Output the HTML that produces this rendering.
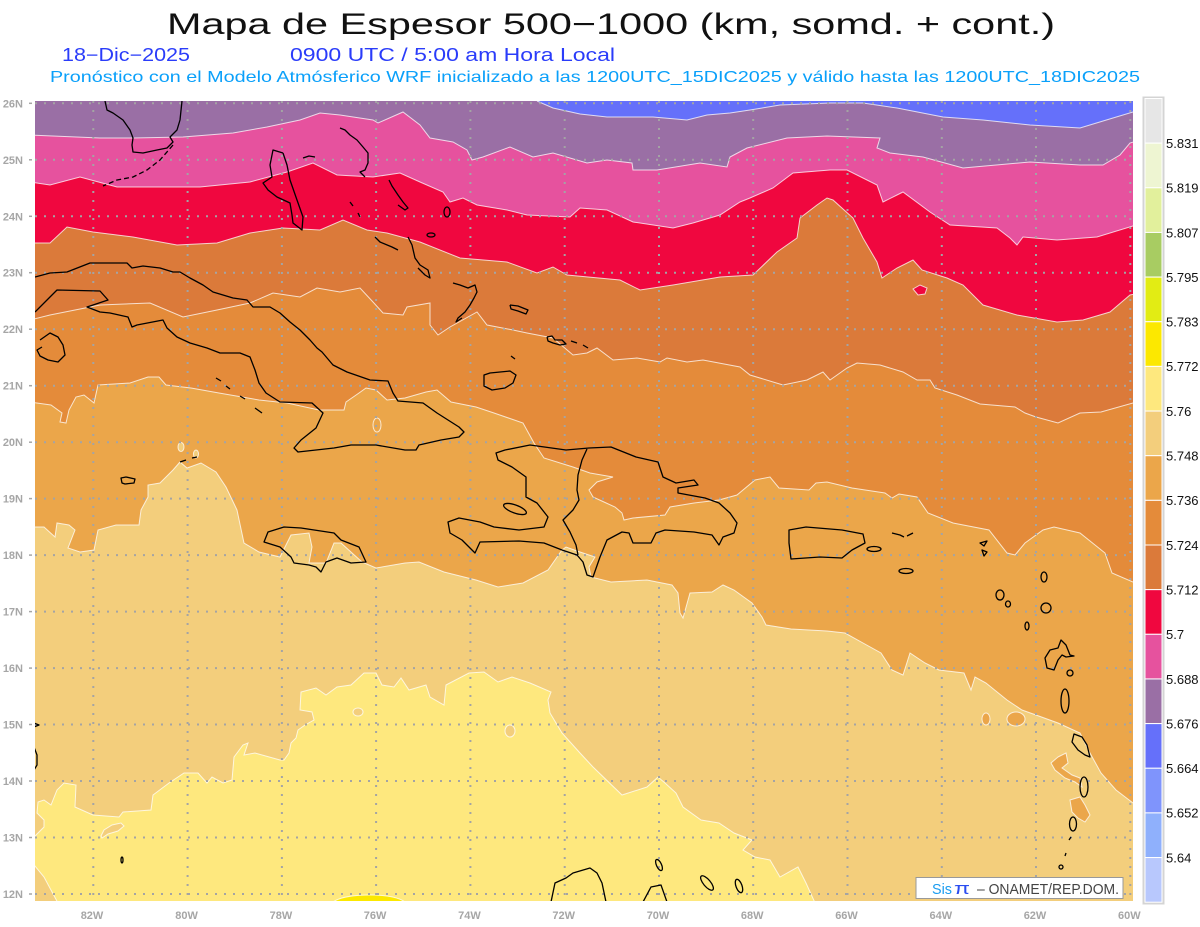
<!DOCTYPE html>
<html><head><meta charset="utf-8"><style>
html,body{margin:0;padding:0;background:#fff;width:1200px;height:927px;overflow:hidden}
svg{display:block}
text{font-family:"Liberation Sans",sans-serif}
</style></head><body>
<svg width="1200" height="927" viewBox="0 0 1200 927" xmlns="http://www.w3.org/2000/svg">
<defs><clipPath id="m"><rect x="35" y="101" width="1098" height="800"/></clipPath></defs>
<rect width="1200" height="927" fill="#fff"/>
<text x="167" y="34" font-size="30" textLength="888" lengthAdjust="spacingAndGlyphs" fill="#111">Mapa de Espesor 500−1000 (km, somd. + cont.)</text>
<text x="62" y="61" font-size="18" textLength="128" lengthAdjust="spacingAndGlyphs" fill="#2a3cfa">18−Dic−2025</text>
<text x="290" y="61" font-size="18" textLength="325" lengthAdjust="spacingAndGlyphs" fill="#2a3cfa">0900 UTC / 5:00 am Hora Local</text>
<text x="50" y="82" font-size="16" textLength="1090" lengthAdjust="spacingAndGlyphs" fill="#0aa0fa">Pronóstico con el Modelo Atmósferico WRF inicializado a las 1200UTC_15DIC2025 y válido hasta las  1200UTC_18DIC2025</text>

<g clip-path="url(#m)">
<rect x="35" y="101" width="1098" height="800" fill="#6570fa"/>
<polygon fill="#9a6fa5" points="30,101 537,101 553,108 580,114 607,117 653,117 687,120 707,115 730,113 750,110 780,105 830,103 863,103 897,108 943,117 983,120 1030,125 1080,128 1113,118 1133,112 1140,111 1140,910 30,910"/>
<polygon fill="#e6529e" points="30,135 100,138 133,138 183,137 233,133 267,127 300,120 320,113 340,115 373,120 378,123 403,112 420,125 430,138 453,142 467,150 472,160 483,157 510,147 533,157 553,153 587,163 607,160 632,163 633,170 657,170 700,163 727,167 730,157 747,148 787,138 827,136 880,138 877,148 890,153 923,157 963,168 1030,162 1080,165 1103,165 1120,155 1130,143 1140,140 1140,910 30,910"/>
<polygon fill="#f0073f" points="30,182 50,185 80,177 117,187 200,187 250,182 287,172 313,163 337,175 373,177 400,173 420,182 443,192 450,202 463,198 477,205 507,210 527,215 570,217 580,208 607,210 633,222 673,228 693,223 720,215 740,202 750,198 773,188 793,173 830,170 847,170 877,185 883,202 897,195 903,192 930,212 950,225 997,228 1010,238 1017,245 1023,237 1057,240 1097,237 1133,226 1140,225 1140,910 30,910"/>
<polygon fill="#db7a3a" points="30,243 50,243 67,227 93,232 133,237 177,245 217,243 250,233 283,228 320,230 343,220 367,230 387,233 420,242 460,258 507,262 537,273 553,267 567,275 620,280 640,290 673,285 720,277 753,275 777,252 797,238 800,218 817,205 827,198 833,200 853,218 863,238 877,262 882,278 897,268 913,260 922,270 947,278 963,285 983,305 1017,315 1057,322 1083,320 1110,312 1130,295 1140,293 1140,910 30,910"/>
<polygon fill="#e48b3a" points="30,320 50,315 100,305 150,303 183,317 217,310 250,303 273,293 300,297 317,288 340,292 360,288 373,302 383,313 403,315 407,307 430,303 430,325 438,335 450,327 477,312 487,325 513,330 527,333 553,338 573,355 587,353 597,348 613,360 637,358 660,362 667,358 687,362 703,360 740,367 750,375 783,385 807,380 823,372 830,380 847,368 857,363 880,365 903,372 917,380 930,380 935,388 957,395 980,404 1015,407 1025,413 1036,417 1058,423 1080,413 1101,412 1133,403 1140,402 1140,910 30,910"/>
<polygon fill="#eba64a" points="30,402 51,405 62,413 60,422 66,423 69,410 76,397 84,395 94,403 98,385 130,383 148,377 159,377 166,385 191,388 219,393 259,400 287,403 319,410 344,410 346,402 359,393 366,388 376,390 387,400 405,398 426,392 437,390 451,402 476,407 494,413 523,423 534,443 544,458 573,467 590,473 613,477 597,482 589,490 593,497 604,502 615,507 622,513 624,520 633,518 665,515 670,507 694,503 719,500 737,495 755,480 770,477 779,488 809,490 816,483 827,482 852,488 885,493 892,498 899,494 917,497 928,513 953,523 989,530 1007,553 1015,555 1025,543 1043,530 1054,527 1080,533 1105,553 1112,573 1133,582 1140,584 1140,910 30,910"/>
<polygon fill="#f3ce7c" points="30,527 44,527 55,537 57,523 69,525 75,530 68,548 80,552 94,550 98,530 116,525 139,525 141,510 148,497 148,485 160,483 173,470 180,462 187,468 201,463 216,472 226,487 237,510 244,543 259,552 280,557 291,535 309,533 312,547 309,563 326,563 334,543 341,543 362,562 376,568 405,563 419,562 444,572 476,580 498,587 523,583 548,570 562,550 566,547 580,552 595,557 589,567 591,577 611,582 647,580 672,585 678,593 680,613 683,618 690,593 712,592 723,585 734,590 752,603 762,617 766,625 791,629 827,631 845,633 863,643 881,653 892,670 903,675 910,653 925,663 939,670 964,673 971,690 975,677 986,683 1007,700 1022,710 1036,715 1058,723 1080,733 1090,753 1101,773 1116,790 1133,803 1140,806 1140,910 30,910"/>
<polygon fill="#fee87e" points="34,837 44,827 44,820 37,813 38,802 44,800 51,805 57,790 64,783 76,785 75,807 93,815 119,817 123,812 151,810 153,795 169,783 184,773 198,773 207,783 212,777 223,783 232,780 234,757 243,745 248,743 244,755 255,753 280,760 284,760 289,753 291,743 296,738 298,730 305,725 314,720 312,712 300,710 301,692 316,688 326,695 337,687 351,685 364,673 376,673 382,685 394,687 401,678 409,690 426,685 430,697 444,705 446,685 469,673 484,672 498,682 512,677 530,683 551,692 548,700 550,713 562,733 580,753 593,767 622,795 647,787 658,777 665,783 676,793 683,807 701,820 719,823 734,833 752,840 743,850 755,857 770,860 780,877 798,867 806,883 816,905 59,905 44,877 30,860 30,837"/>
<path fill="#fce800" d="M333,902 C340,897 355,895 370,895 C385,895 398,897 405,902 Z"/>
<!-- small patches -->
<g stroke="#fff" stroke-opacity="0.75" stroke-width="1">
<polygon fill="#f0073f" points="913,289 920,285 927,288 925,294 918,295"/>
<polygon fill="#f3ce7c" points="101,836 104,830 112,825 121,823 124,826 118,831 108,834 102,838"/>
<ellipse fill="#f3ce7c" cx="181" cy="447" rx="3" ry="4.5"/>
<ellipse fill="#f3ce7c" cx="196" cy="454" rx="2.5" ry="4"/>
<ellipse fill="#f3ce7c" cx="358" cy="712" rx="5" ry="4"/>
<ellipse fill="#f3ce7c" cx="510" cy="731" rx="5" ry="6"/>
<ellipse fill="#eba64a" cx="377" cy="425" rx="4" ry="7"/>
<polygon fill="#eba64a" points="1058,757 1066,753 1068,763 1062,768 1072,775 1080,778 1082,787 1075,782 1065,778 1055,770 1051,763"/>
<polygon fill="#eba64a" points="1070,800 1080,797 1085,805 1090,815 1085,822 1078,818 1072,812"/>
<ellipse fill="#eba64a" cx="986" cy="719" rx="4" ry="6"/>
<ellipse fill="#eba64a" cx="1016" cy="719" rx="9" ry="7"/>
</g>
<!-- contour lines -->
<g fill="none" stroke="#fff" stroke-opacity="0.75" stroke-width="1">
<polyline points="537,101 553,108 580,114 607,117 653,117 687,120 707,115 730,113 750,110 780,105 830,103 863,103 897,108 943,117 983,120 1030,125 1080,128 1113,118 1133,112 1140,111"/>
<polyline points="30,135 100,138 133,138 183,137 233,133 267,127 300,120 320,113 340,115 373,120 378,123 403,112 420,125 430,138 453,142 467,150 472,160 483,157 510,147 533,157 553,153 587,163 607,160 632,163 633,170 657,170 700,163 727,167 730,157 747,148 787,138 827,136 880,138 877,148 890,153 923,157 963,168 1030,162 1080,165 1103,165 1120,155 1130,143 1140,140"/>
<polyline points="30,182 50,185 80,177 117,187 200,187 250,182 287,172 313,163 337,175 373,177 400,173 420,182 443,192 450,202 463,198 477,205 507,210 527,215 570,217 580,208 607,210 633,222 673,228 693,223 720,215 740,202 750,198 773,188 793,173 830,170 847,170 877,185 883,202 897,195 903,192 930,212 950,225 997,228 1010,238 1017,245 1023,237 1057,240 1097,237 1133,226 1140,225"/>
<polyline points="30,243 50,243 67,227 93,232 133,237 177,245 217,243 250,233 283,228 320,230 343,220 367,230 387,233 420,242 460,258 507,262 537,273 553,267 567,275 620,280 640,290 673,285 720,277 753,275 777,252 797,238 800,218 817,205 827,198 833,200 853,218 863,238 877,262 882,278 897,268 913,260 922,270 947,278 963,285 983,305 1017,315 1057,322 1083,320 1110,312 1130,295 1140,293"/>
<polyline points="30,320 50,315 100,305 150,303 183,317 217,310 250,303 273,293 300,297 317,288 340,292 360,288 373,302 383,313 403,315 407,307 430,303 430,325 438,335 450,327 477,312 487,325 513,330 527,333 553,338 573,355 587,353 597,348 613,360 637,358 660,362 667,358 687,362 703,360 740,367 750,375 783,385 807,380 823,372 830,380 847,368 857,363 880,365 903,372 917,380 930,380 935,388 957,395 980,404 1015,407 1025,413 1036,417 1058,423 1080,413 1101,412 1133,403 1140,402"/>
<polyline points="30,402 51,405 62,413 60,422 66,423 69,410 76,397 84,395 94,403 98,385 130,383 148,377 159,377 166,385 191,388 219,393 259,400 287,403 319,410 344,410 346,402 359,393 366,388 376,390 387,400 405,398 426,392 437,390 451,402 476,407 494,413 523,423 534,443 544,458 573,467 590,473 613,477 597,482 589,490 593,497 604,502 615,507 622,513 624,520 633,518 665,515 670,507 694,503 719,500 737,495 755,480 770,477 779,488 809,490 816,483 827,482 852,488 885,493 892,498 899,494 917,497 928,513 953,523 989,530 1007,553 1015,555 1025,543 1043,530 1054,527 1080,533 1105,553 1112,573 1133,582 1140,584"/>
<polyline points="30,527 44,527 55,537 57,523 69,525 75,530 68,548 80,552 94,550 98,530 116,525 139,525 141,510 148,497 148,485 160,483 173,470 180,462 187,468 201,463 216,472 226,487 237,510 244,543 259,552 280,557 291,535 309,533 312,547 309,563 326,563 334,543 341,543 362,562 376,568 405,563 419,562 444,572 476,580 498,587 523,583 548,570 562,550 566,547 580,552 595,557 589,567 591,577 611,582 647,580 672,585 678,593 680,613 683,618 690,593 712,592 723,585 734,590 752,603 762,617 766,625 791,629 827,631 845,633 863,643 881,653 892,670 903,675 910,653 925,663 939,670 964,673 971,690 975,677 986,683 1007,700 1022,710 1036,715 1058,723 1080,733 1090,753 1101,773 1116,790 1133,803 1140,806"/>
<polyline points="34,837 44,827 44,820 37,813 38,802 44,800 51,805 57,790 64,783 76,785 75,807 93,815 119,817 123,812 151,810 153,795 169,783 184,773 198,773 207,783 212,777 223,783 232,780 234,757 243,745 248,743 244,755 255,753 280,760 284,760 289,753 291,743 296,738 298,730 305,725 314,720 312,712 300,710 301,692 316,688 326,695 337,687 351,685 364,673 376,673 382,685 394,687 401,678 409,690 426,685 430,697 444,705 446,685 469,673 484,672 498,682 512,677 530,683 551,692 548,700 550,713 562,733 580,753 593,767 622,795 647,787 658,777 665,783 676,793 683,807 701,820 719,823 734,833 752,840 743,850 755,857 770,860 780,877 798,867 806,883 816,905"/>
<polyline points="30,860 44,877 59,905"/>
<path d="M333,902 C340,897 355,895 370,895 C385,895 398,897 405,902"/>
</g>
<!-- grid -->
<g stroke="#a4a4a4" stroke-width="2" stroke-dasharray="2 7">
<line x1="35" x2="1133" y1="103.3" y2="103.3"/><line x1="35" x2="1133" y1="159.8" y2="159.8"/><line x1="35" x2="1133" y1="216.3" y2="216.3"/><line x1="35" x2="1133" y1="272.7" y2="272.7"/><line x1="35" x2="1133" y1="329.2" y2="329.2"/><line x1="35" x2="1133" y1="385.7" y2="385.7"/><line x1="35" x2="1133" y1="442.2" y2="442.2"/><line x1="35" x2="1133" y1="498.6" y2="498.6"/><line x1="35" x2="1133" y1="555.1" y2="555.1"/><line x1="35" x2="1133" y1="611.6" y2="611.6"/><line x1="35" x2="1133" y1="668.1" y2="668.1"/><line x1="35" x2="1133" y1="724.5" y2="724.5"/><line x1="35" x2="1133" y1="781" y2="781"/><line x1="35" x2="1133" y1="837.5" y2="837.5"/><line x1="35" x2="1133" y1="894" y2="894"/>
<line y1="101" y2="901" x1="93.3" x2="93.3"/><line y1="101" y2="901" x1="187.6" x2="187.6"/><line y1="101" y2="901" x1="281.9" x2="281.9"/><line y1="101" y2="901" x1="376.1" x2="376.1"/><line y1="101" y2="901" x1="470.4" x2="470.4"/><line y1="101" y2="901" x1="564.7" x2="564.7"/><line y1="101" y2="901" x1="659" x2="659"/><line y1="101" y2="901" x1="753.2" x2="753.2"/><line y1="101" y2="901" x1="847.5" x2="847.5"/><line y1="101" y2="901" x1="941.8" x2="941.8"/><line y1="101" y2="901" x1="1036" x2="1036"/><line y1="101" y2="901" x1="1130.3" x2="1130.3"/>
</g>
<!-- coastlines -->
<g fill="none" stroke="#000" stroke-width="1.3" stroke-linejoin="round">
<polyline points="105,101 107,110 113,113 123,120 130,130 133,138 132,145 133,152 143,153 157,150 167,148 173,142 170,137 177,130 180,120 182,101"/>
<polyline stroke-dasharray="5 3" points="173,145 160,160 147,170 133,177 117,180 103,186"/>
<polyline points="283,153 273,150 270,165 272,177 263,183 268,190 277,197 290,203 292,215 293,223 302,230 303,217 297,200 290,180 287,165 283,153"/>
<polyline points="303,158 309,156 315,157"/>
<polyline points="340,128 345,130 350,135 357,140 363,147 368,153 368,163 365,170 360,172 365,177"/>
<polyline points="389,180 392,186 398,195 403,202 408,208 405,210 398,205"/>
<polyline points="350,202 353,206"/><polyline points="358,213 360,217"/>
<polyline points="375,237 380,242 392,247 398,250"/>
<polyline points="408,237 412,245 415,258 420,265 428,270 430,278 425,275 418,268"/>
<ellipse cx="447" cy="212" rx="3" ry="5"/>
<ellipse cx="431" cy="235" rx="4" ry="2"/>
<polyline points="453,283 460,285 468,288 475,285 477,292 474,298 470,305 465,312 458,318 456,322 462,318"/>
<polyline points="510,305 518,306 528,310 526,314 518,311 511,309 510,305"/>
<polyline points="547,337 552,336 555,340 562,340 566,344 560,345 553,343 548,341 547,337"/>
<polyline points="571,341 577,343"/><polyline points="583,345 588,348"/>
<polygon points="484,375 490,373 510,371 516,375 513,383 505,388 492,390 484,386"/>
<polyline points="511,356 515,359"/>
<polyline points="35,277 50,273 67,272 90,263 100,263 127,263 132,268 143,266 160,268 173,272 180,272 190,278 203,285 213,292 233,298 247,300 253,307 270,307 280,313 290,322 300,330 310,340 317,348 322,352 333,365 347,372 370,380 388,381 393,393 398,401 423,403 437,413 459,427 464,432 459,437 441,440 419,445 416,450 405,450 376,445 351,445 334,448 298,452 294,448 301,440 316,428 323,413 312,403 280,402 266,393 259,383 255,370 250,357 240,353 220,353 207,348 190,343 177,337 167,328 163,320 137,325 132,327 128,317 110,313 100,312 87,307 108,300 100,291 57,290 50,297 35,312"/>
<polyline points="40,340 50,333 58,337 63,345 65,355 58,362 48,360 40,356 37,350 42,347"/>
<polygon points="121,478 126,477 135,479 134,483 125,484 122,483"/>
<polyline points="180,462 186,460"/><polyline points="192,458 197,457"/>
<polyline points="216,378 221,381"/><polyline points="226,386 230,389"/><polyline points="240,396 245,399"/><polyline points="255,408 262,413"/>
<polygon points="264,542 268,532 284,527 301,528 334,533 341,540 359,547 366,562 351,563 337,558 326,562 321,572 316,567 309,565 294,563 291,557 280,547"/>
<polygon points="496,453 505,450 530,445 566,450 589,448 611,447 636,457 658,462 663,477 676,483 694,480 698,485 678,488 678,493 705,498 719,503 730,513 737,523 734,533 723,537 719,545 712,535 694,532 665,530 656,533 651,543 633,543 629,533 622,532 607,540 600,557 593,577 587,575 583,562 577,555 562,550 544,543 519,541 480,542 475,553 462,540 450,533 448,522 459,518 480,522 494,527 519,530 544,527 548,517 537,503 526,497 526,477 512,467 498,460"/>
<polyline points="587,449 582,460 578,475 577,490 579,500 573,510 563,520 570,532 576,545 578,555"/>
<ellipse cx="515" cy="509" rx="12" ry="4" transform="rotate(20 515 509)"/>
<polygon points="789,530 806,527 842,530 863,534 865,543 852,550 842,558 820,557 791,559 789,543"/>
<ellipse cx="874" cy="549" rx="7" ry="2.5"/>
<polyline points="892,533 900,535 904,537"/><polyline points="907,536 913,533"/>
<ellipse cx="906" cy="571" rx="7" ry="2.5"/>
<polygon points="980,543 987,541 984,546"/><polygon points="982,550 987,552 984,556"/>
<ellipse cx="1000" cy="595" rx="4" ry="5"/>
<ellipse cx="1008" cy="604" rx="2.5" ry="3"/>
<ellipse cx="1044" cy="577" rx="3" ry="5"/>
<ellipse cx="1046" cy="608" rx="5" ry="5"/>
<ellipse cx="1027" cy="626" rx="2" ry="4"/>
<polygon points="1050,650 1058,648 1061,640 1066,645 1070,655 1074,656 1066,657 1062,655 1058,660 1054,670 1047,668 1045,658"/>
<circle cx="1070" cy="673" r="3"/>
<ellipse cx="1065" cy="701" rx="4" ry="12"/>
<polygon points="1074,734 1082,737 1087,745 1090,757 1085,755 1078,750 1072,742"/>
<ellipse cx="1084" cy="787" rx="4" ry="10"/>
<ellipse cx="1073" cy="824" rx="3.5" ry="7"/>
<polyline points="1071,837 1069,840"/><polyline points="1066,853 1065,856"/>
<ellipse cx="1061" cy="867" rx="2" ry="2"/>
<polyline points="551,902 555,883 566,878 573,873 590,868 597,873 602,883 606,902"/>
<polyline points="643,902 651,887 661,885 667,902"/>
<ellipse cx="659" cy="865" rx="2.5" ry="6" transform="rotate(-25 659 865)"/>
<ellipse cx="707" cy="883" rx="3.5" ry="9" transform="rotate(-40 707 883)"/>
<ellipse cx="739" cy="886" rx="3" ry="7" transform="rotate(-20 739 886)"/>
<polyline points="34,747 37,755 37,765 34,770"/>
<polyline points="34,723 39,725 34,727"/>
<ellipse cx="122" cy="860" rx="1" ry="3"/>
</g>
</g>

<!-- lat labels -->
<g font-size="11" font-weight="bold" fill="#a6a6a6" text-anchor="end">
<text x="23" y="107.3">26N</text><text x="23" y="163.8">25N</text><text x="23" y="220.3">24N</text><text x="23" y="276.7">23N</text><text x="23" y="333.2">22N</text><text x="23" y="389.7">21N</text><text x="23" y="446.2">20N</text><text x="23" y="502.6">19N</text><text x="23" y="559.1">18N</text><text x="23" y="615.6">17N</text><text x="23" y="672.1">16N</text><text x="23" y="728.5">15N</text><text x="23" y="785">14N</text><text x="23" y="841.5">13N</text><text x="23" y="898">12N</text>
</g>
<g stroke="#a6a6a6" stroke-width="1.5">
<line x1="29" x2="32" y1="103.3" y2="103.3"/><line x1="29" x2="32" y1="159.8" y2="159.8"/><line x1="29" x2="32" y1="216.3" y2="216.3"/><line x1="29" x2="32" y1="272.7" y2="272.7"/><line x1="29" x2="32" y1="329.2" y2="329.2"/><line x1="29" x2="32" y1="385.7" y2="385.7"/><line x1="29" x2="32" y1="442.2" y2="442.2"/><line x1="29" x2="32" y1="498.6" y2="498.6"/><line x1="29" x2="32" y1="555.1" y2="555.1"/><line x1="29" x2="32" y1="611.6" y2="611.6"/><line x1="29" x2="32" y1="668.1" y2="668.1"/><line x1="29" x2="32" y1="724.5" y2="724.5"/><line x1="29" x2="32" y1="781" y2="781"/><line x1="29" x2="32" y1="837.5" y2="837.5"/><line x1="29" x2="32" y1="894" y2="894"/>
</g>
<g font-size="11" font-weight="bold" fill="#a6a6a6" text-anchor="middle">
<text x="92" y="919">82W</text><text x="186.6" y="919">80W</text><text x="280.9" y="919">78W</text><text x="375.1" y="919">76W</text><text x="469.4" y="919">74W</text><text x="563.7" y="919">72W</text><text x="658" y="919">70W</text><text x="752.2" y="919">68W</text><text x="846.5" y="919">66W</text><text x="940.8" y="919">64W</text><text x="1035" y="919">62W</text><text x="1129.3" y="919">60W</text>
</g>

<!-- colorbar -->
<rect x="1143.5" y="97.5" width="20" height="806" fill="#fff" stroke="#d4d4d4" stroke-width="2"/>
<g stroke="#fff" stroke-width="1">
<rect x="1145" y="98.5" width="17" height="44.65" fill="#e6e6e6"/>
<rect x="1145" y="143.15" width="17" height="44.65" fill="#eef5d2"/>
<rect x="1145" y="187.8" width="17" height="44.65" fill="#e2f09c"/>
<rect x="1145" y="232.45" width="17" height="44.65" fill="#a8cc62"/>
<rect x="1145" y="277.1" width="17" height="44.65" fill="#e2ec14"/>
<rect x="1145" y="321.75" width="17" height="44.65" fill="#fce800"/>
<rect x="1145" y="366.4" width="17" height="44.65" fill="#fee87e"/>
<rect x="1145" y="411.05" width="17" height="44.65" fill="#f3ce7c"/>
<rect x="1145" y="455.7" width="17" height="44.65" fill="#eba64a"/>
<rect x="1145" y="500.35" width="17" height="44.65" fill="#e48b3a"/>
<rect x="1145" y="545" width="17" height="44.65" fill="#db7a3a"/>
<rect x="1145" y="589.65" width="17" height="44.65" fill="#f0073f"/>
<rect x="1145" y="634.3" width="17" height="44.65" fill="#e6529e"/>
<rect x="1145" y="678.95" width="17" height="44.65" fill="#9a6fa5"/>
<rect x="1145" y="723.6" width="17" height="44.65" fill="#6570fa"/>
<rect x="1145" y="768.25" width="17" height="44.65" fill="#7f94fc"/>
<rect x="1145" y="812.9" width="17" height="44.65" fill="#8fb0fc"/>
<rect x="1145" y="857.55" width="17" height="44.65" fill="#b8c8fd"/>
</g>
<g font-size="13" fill="#111">
<text x="1166" y="148">5.831</text><text x="1166" y="192.6">5.819</text><text x="1166" y="237.3">5.807</text><text x="1166" y="281.9">5.795</text><text x="1166" y="326.6">5.783</text><text x="1166" y="371.2">5.772</text><text x="1166" y="415.9">5.76</text><text x="1166" y="460.5">5.748</text><text x="1166" y="505.2">5.736</text><text x="1166" y="549.8">5.724</text><text x="1166" y="594.5">5.712</text><text x="1166" y="639.1">5.7</text><text x="1166" y="683.8">5.688</text><text x="1166" y="728.4">5.676</text><text x="1166" y="773.1">5.664</text><text x="1166" y="817.7">5.652</text><text x="1166" y="862.4">5.64</text>
</g>

<!-- credit box -->
<rect x="916" y="877.5" width="207" height="21" fill="#fff" stroke="#999" stroke-width="1"/>
<text x="932" y="894" font-size="15" textLength="20" lengthAdjust="spacingAndGlyphs" fill="#1a9cf0">Sis</text>
<text x="954" y="894" font-size="17" textLength="16" lengthAdjust="spacingAndGlyphs" fill="#2a4cf0">π</text>
<text x="977" y="894" font-size="15" textLength="142" lengthAdjust="spacingAndGlyphs" fill="#444">– ONAMET/REP.DOM.</text>
</svg>
</body></html>
